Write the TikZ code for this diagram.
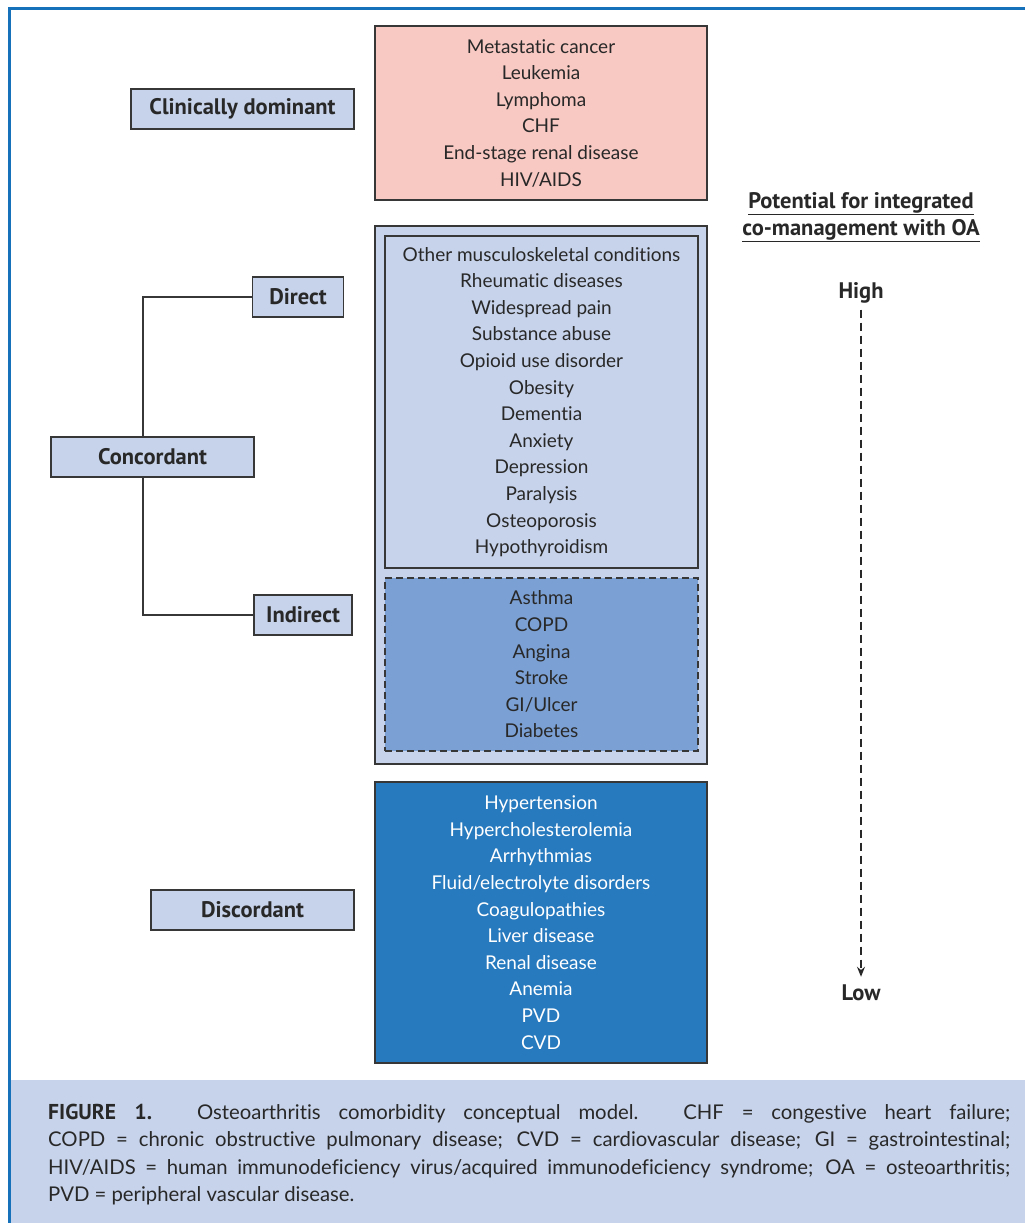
\documentclass[tikz,border=0pt]{standalone}
\usepackage{fontspec}
\setmainfont{Lato}[Ligatures=NoCommon]
\newfontfamily\labfont{PT Sans}
\usetikzlibrary{arrows.meta}
\definecolor{frameblue}{RGB}{22,112,186}
\definecolor{lblue}{RGB}{199,211,234}
\definecolor{pinkf}{RGB}{248,200,194}
\definecolor{midblue}{RGB}{123,160,211}
\definecolor{dblue}{RGB}{40,122,190}
\definecolor{edge}{RGB}{55,55,55}
\definecolor{txt}{RGB}{40,40,40}
\begin{document}
\begin{tikzpicture}[x=1pt,y=-1pt,
 box/.style={draw=edge,line width=1.4pt,inner sep=0pt,align=center,
   font=\fontsize{19}{26.6}\selectfont,text=txt},
 lab/.style={draw=edge,line width=1.4pt,fill=lblue,minimum height=40pt,inner sep=0pt,
   font=\labfont\bfseries\fontsize{22.5}{24}\selectfont,text=txt},
 side/.style={font=\labfont\bfseries\fontsize{22.5}{27}\selectfont,text=txt,align=center,inner sep=2pt},
 conn/.style={draw=edge,line width=1.2pt}
]
\useasboundingbox (0,0) rectangle (1025,1223);
% frame and caption area
\fill[lblue] (11,1080) rectangle (1025,1223);
\draw[frameblue,line width=3pt] (9.5,1223) -- (9.5,8.5) -- (1025,8.5);

% main boxes
\node[box,fill=pinkf,minimum width=332pt,minimum height=174pt] (dom) at (541,113)
 {Metastatic cancer\\Leukemia\\Lymphoma\\CHF\\End-stage renal disease\\HIV/AIDS};
\node[box,fill=lblue,minimum width=332pt,minimum height=538pt] (conc) at (541,495) {};
\node[box,fill=lblue,minimum width=313pt,minimum height=332pt] (dir) at (541.5,402)
 {Other musculoskeletal conditions\\Rheumatic diseases\\Widespread pain\\Substance abuse\\Opioid use disorder\\Obesity\\Dementia\\Anxiety\\Depression\\Paralysis\\Osteoporosis\\Hypothyroidism};
\node[box,fill=midblue,dashed,dash pattern=on 7pt off 4pt,minimum width=313pt,minimum height=173pt] (ind) at (541.5,664.5)
 {Asthma\\COPD\\Angina\\Stroke\\GI/Ulcer\\Diabetes};
\node[box,fill=dblue,text=white,minimum width=332pt,minimum height=281pt] (disc) at (541,922.5)
 {Hypertension\\Hypercholesterolemia\\Arrhythmias\\Fluid/electrolyte disorders\\Coagulopathies\\Liver disease\\Renal disease\\Anemia\\PVD\\CVD};

% left labels
\node[lab,minimum width=223pt] (Lcd) at (242.5,109) {Clinically dominant};
\node[lab,minimum width=91pt] (Ldir) at (298,297) {Direct};
\node[lab,minimum width=203pt] (Lconc) at (152.5,457) {Concordant};
\node[lab,minimum width=98pt] (Lind) at (303,615) {Indirect};
\node[lab,minimum width=203pt] (Ldisc) at (252.5,910) {Discordant};

\coordinate (j) at (143,457);
\draw[conn] (Ldir.west) -| (Lconc.north -| j);
\draw[conn] (Lind.west) -| (Lconc.south -| j);

% right side
\node[side] (pot) at (861,217) {\underline{Potential for integrated}\\\underline{co-management with OA}};
\node[side] (high) at (861,293) {High};
\node[side] (low) at (861,993) {Low};
\draw[draw=txt,line width=1.2pt,dash pattern=on 8pt off 5pt,-{Stealth[length=10pt,width=8pt]}]
 ([yshift=-4pt]high.south) -- ([yshift=6pt]low.north);

% caption
\node[anchor=north west,text width=962pt,align=justify,inner sep=0pt,
  font=\fontsize{20.3}{27.3}\selectfont,text=txt] (cap) at (48,1104)
 {\hyphenpenalty=10000 {\labfont\bfseries\fontsize{21.5}{27.3}\selectfont FIGURE 1.} Osteoarthritis comorbidity conceptual model. CHF = congestive heart failure;\linebreak
 COPD = chronic obstructive pulmonary disease; CVD = cardiovascular disease; GI = gastrointestinal;\linebreak
 HIV/AIDS = human immunodeficiency virus/acquired immunodeficiency syndrome; OA = osteoarthritis;\linebreak
 PVD = peripheral vascular disease.};
\end{tikzpicture}
\end{document}
